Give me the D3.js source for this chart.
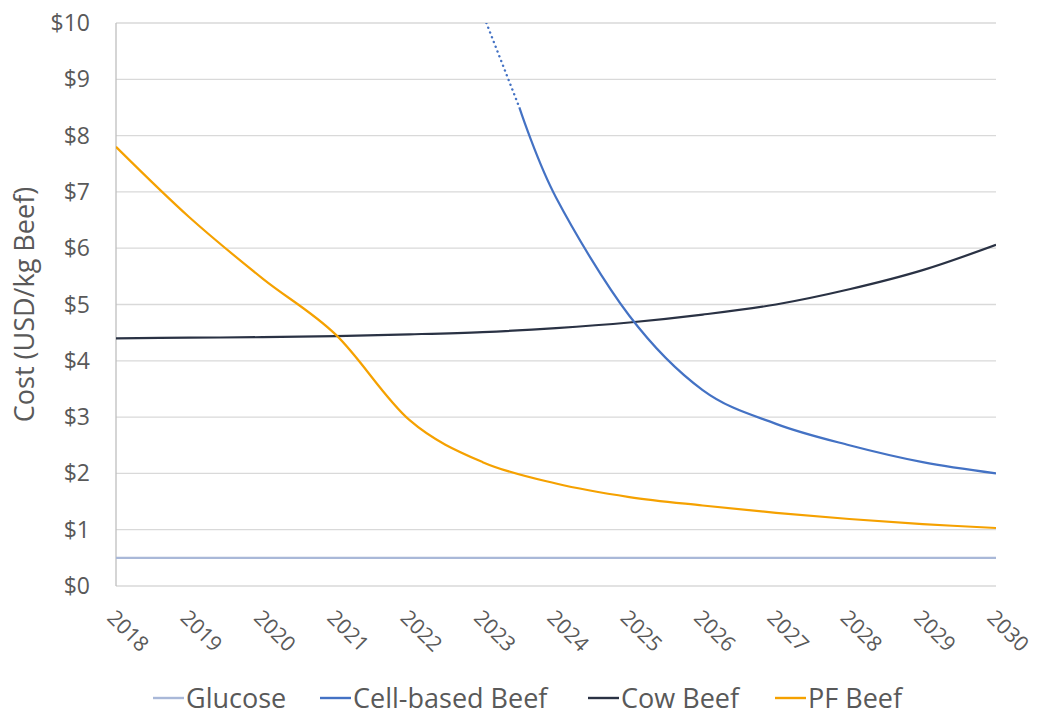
<!DOCTYPE html>
<html>
<head>
<meta charset="utf-8">
<script src="https://cdn.jsdelivr.net/npm/d3@7"></script>
<style>
  body { margin: 0; background: #fff; }
  svg { display: block; font-family: "Open Sans", Lato, sans-serif; }
  .tick-label { fill: #595959; font-size: 23px; }
  .x-label { fill: #595959; font-size: 21px; }
  .axis-title { fill: #595959; font-size: 27px; }
  .legend-label { fill: #595959; font-size: 27px; }
</style>
</head>
<body>
<div id="chart"></div>
<script>
// Years on the x axis
const years = [2018, 2019, 2020, 2021, 2022, 2023, 2024, 2025, 2026, 2027, 2028, 2029, 2030];

// Series values (USD per kg beef)
const glucose = [0.5, 0.5, 0.5, 0.5, 0.5, 0.5, 0.5, 0.5, 0.5, 0.5, 0.5, 0.5, 0.5];
const cowBeef = [4.40, 4.41, 4.42, 4.44, 4.47, 4.51, 4.58, 4.68, 4.82, 5.0, 5.27, 5.61, 6.06];
const pfBeef = [7.8, 6.55, 5.46, 4.46, 2.95, 2.2, 1.82, 1.58, 1.43, 1.3, 1.19, 1.1, 1.03];

// Cell-based beef starts mid-2023; the earlier projection is dotted
const cellYears = [2023.5, 2024, 2025, 2026, 2027, 2028, 2029, 2030];
const cellBeef = [8.5, 6.9, 4.8, 3.48, 2.88, 2.5, 2.2, 2.0];
const cellProjYears = [2023, 2023.5];
const cellProj = [10.17, 8.5];

const yTicks = [0, 1, 2, 3, 4, 5, 6, 7, 8, 9, 10];

const legendItems = [
    { name: 'Glucose', color: '#a9b8d8' },
    { name: 'Cell-based Beef', color: '#4472c4' },
    { name: 'Cow Beef', color: '#2a3244' },
    { name: 'PF Beef', color: '#f5a100' }
];

const width = 1037, height = 715;
const margin = { top: 23, right: 41, bottom: 129, left: 116 };

const svg = d3.select('#chart').append('svg')
    .attr('width', width)
    .attr('height', height);

const x = d3.scaleLinear()
    .domain([2018, 2030])
    .range([margin.left, width - margin.right]);

const y = d3.scaleLinear()
    .domain([0, 10])
    .range([height - margin.bottom, margin.top]);

// Clip so the off-scale cell-based values stop at the top of the plot
svg.append('clipPath').attr('id', 'plot-clip')
    .append('rect')
    .attr('x', margin.left)
    .attr('y', margin.top)
    .attr('width', width - margin.left - margin.right)
    .attr('height', height - margin.top - margin.bottom);

// Horizontal gridlines
svg.append('g')
    .selectAll('line')
    .data(yTicks)
    .enter()
    .append('line')
    .attr('x1', margin.left)
    .attr('x2', width - margin.right)
    .attr('y1', d => y(d))
    .attr('y2', d => y(d))
    .attr('stroke', '#d9d9d9')
    .attr('stroke-width', 1.3);

// Left axis line
svg.append('line')
    .attr('x1', margin.left)
    .attr('x2', margin.left)
    .attr('y1', y(10))
    .attr('y2', y(0))
    .attr('stroke', '#bfbfbf')
    .attr('stroke-width', 1.3);

// Y tick labels
svg.append('g')
    .selectAll('text')
    .data(yTicks)
    .enter()
    .append('text')
    .attr('class', 'tick-label')
    .attr('x', margin.left - 26)
    .attr('y', d => y(d))
    .attr('dy', '0.35em')
    .attr('text-anchor', 'end')
    .text(d => '$' + d);

// X tick labels, rotated
svg.append('g')
    .selectAll('text')
    .data(years)
    .enter()
    .append('text')
    .attr('class', 'x-label')
    .attr('text-anchor', 'start')
    .attr('transform', d => `translate(${x(d) - 10}, ${y(0) + 33}) rotate(45)`)
    .text(d => d);

// Y axis title
svg.append('text')
    .attr('class', 'axis-title')
    .attr('text-anchor', 'middle')
    .attr('transform', `translate(34, ${(y(0) + y(10)) / 2}) rotate(-90)`)
    .text('Cost (USD/kg Beef)');

// Excel-style smoothing
const line = d3.line()
    .x(d => x(d[0]))
    .y(d => y(d[1]))
    .curve(d3.curveCatmullRom.alpha(0));

const plot = svg.append('g').attr('clip-path', 'url(#plot-clip)');

plot.append('path')
    .datum(years.map((yr, i) => [yr, glucose[i]]))
    .attr('fill', 'none')
    .attr('stroke', legendItems[0].color)
    .attr('stroke-width', 2.2)
    .attr('d', line);

plot.append('path')
    .datum(years.map((yr, i) => [yr, cowBeef[i]]))
    .attr('fill', 'none')
    .attr('stroke', legendItems[2].color)
    .attr('stroke-width', 2.2)
    .attr('d', line);

plot.append('path')
    .datum(years.map((yr, i) => [yr, pfBeef[i]]))
    .attr('fill', 'none')
    .attr('stroke', legendItems[3].color)
    .attr('stroke-width', 2.2)
    .attr('d', line);

plot.append('path')
    .datum(cellProjYears.map((yr, i) => [yr, cellProj[i]]))
    .attr('fill', 'none')
    .attr('stroke', legendItems[1].color)
    .attr('stroke-width', 2.4)
    .attr('stroke-linecap', 'round')
    .attr('stroke-dasharray', '0.1 5')
    .attr('d', line);

plot.append('path')
    .datum(cellYears.map((yr, i) => [yr, cellBeef[i]]))
    .attr('fill', 'none')
    .attr('stroke', legendItems[1].color)
    .attr('stroke-width', 2.2)
    .attr('d', line);

// Legend
const legendX = [153, 320, 588, 775];
const legend = svg.append('g')
    .selectAll('g')
    .data(legendItems)
    .enter()
    .append('g')
    .attr('transform', (d, i) => `translate(${legendX[i]}, 698)`);

legend.append('line')
    .attr('x1', 0)
    .attr('x2', 31)
    .attr('y1', 0)
    .attr('y2', 0)
    .attr('stroke', d => d.color)
    .attr('stroke-width', 2.4);

legend.append('text')
    .attr('class', 'legend-label')
    .attr('x', 33)
    .attr('y', 10)
    .text(d => d.name);
</script>
</body>
</html>
